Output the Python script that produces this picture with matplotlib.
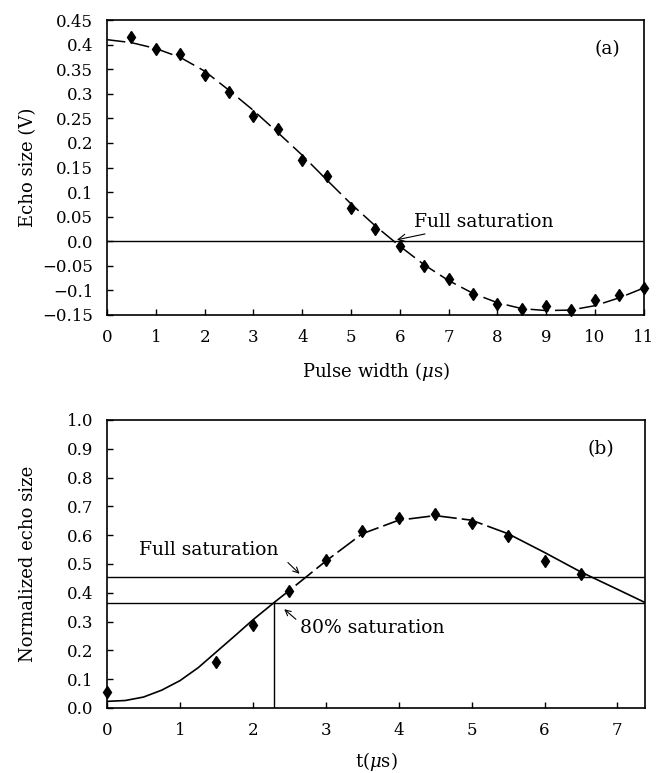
import matplotlib.pyplot as plt

# panel (a): echo size vs pulse width
pulse_w = [0.5, 1.0, 1.5, 2.0, 2.5, 3.0, 3.5, 4.0, 4.5, 5.0, 5.5,
           6.0, 6.5, 7.0, 7.5, 8.0, 8.5, 9.0, 9.5, 10.0, 10.5, 11.0]
echo_v = [0.416, 0.392, 0.380, 0.338, 0.304, 0.254, 0.228, 0.166, 0.132, 0.068, 0.025,
          -0.010, -0.051, -0.077, -0.107, -0.128, -0.137, -0.132, -0.139, -0.119, -0.110, -0.095]
fit_a_x = [0, 0.5, 1.0, 1.5, 2.0, 2.5, 3.0, 3.5, 4.0, 4.5, 5.0, 5.5,
           6.0, 6.5, 7.0, 7.5, 8.0, 8.5, 9.0, 9.5, 10.0, 10.5, 11.0]
fit_a_y = [0.410, 0.404, 0.392, 0.374, 0.346, 0.307, 0.266, 0.221, 0.175, 0.125, 0.076, 0.031,
           -0.010, -0.048, -0.080, -0.106, -0.125, -0.137, -0.141, -0.140, -0.131, -0.115, -0.095]
yticks_a = [0.45, 0.4, 0.35, 0.3, 0.25, 0.2, 0.15, 0.1, 0.05, 0.0, -0.05, -0.1, -0.15]
ylabels_a = ["0.45", "0.4", "0.35", "0.3", "0.25", "0.2", "0.15", "0.1", "0.05", "0.0",
             "\u22120.05", "\u22120.1", "\u22120.15"]

# panel (b): normalized echo size vs t
t_us = [0.0, 1.5, 2.0, 2.5, 3.0, 3.5, 4.0, 4.5, 5.0, 5.5, 6.0, 6.5]
norm_echo = [0.055, 0.158, 0.287, 0.407, 0.514, 0.616, 0.659, 0.674, 0.642, 0.598, 0.509, 0.466]
fit_b_x = [0.0, 0.25, 0.5, 0.75, 1.0, 1.25, 1.5, 1.75, 2.0, 2.3,
           2.5, 3.0, 3.5, 4.0, 4.5, 5.0, 5.5,
           6.0, 6.5, 7.0, 7.38]
fit_b_y = [0.023, 0.026, 0.038, 0.062, 0.095, 0.140, 0.195, 0.250, 0.306, 0.368,
           0.408, 0.510, 0.605, 0.652, 0.668, 0.652, 0.605,
           0.540, 0.472, 0.412, 0.366]
full_sat = 0.455
sat80 = 0.366
t80 = 2.29

plt.rcParams['font.family'] = ['DejaVu Serif']
plt.rcParams['mathtext.fontset'] = 'dejavuserif'

fig = plt.figure(figsize=(6.61, 7.73), dpi=100)
ax1 = fig.add_axes([0.162, 0.5925, 0.812, 0.3816])
ax2 = fig.add_axes([0.162, 0.0841, 0.814, 0.3726])

dash = (12, 4)
fs = 12       # tick labels
fl = 13       # axis labels
ft = 13.5     # annotations

# (a)
ax1.plot(fit_a_x, fit_a_y, color='black', lw=1.1, dashes=dash)
ax1.plot(pulse_w, echo_v, 'd', color='black', ms=6, clip_on=False)
ax1.axhline(0.0, color='black', lw=1.0)
ax1.set_xlim(0, 11)
ax1.set_ylim(-0.15, 0.45)
ax1.set_xticks(range(0, 12))
ax1.set_yticks(yticks_a)
ax1.set_yticklabels(ylabels_a)
ax1.set_xlabel(r"Pulse width ($\mu$s)", fontsize=fl, labelpad=10)
ax1.set_ylabel("Echo size (V)", fontsize=fl)
ax1.yaxis.set_label_coords(-0.13, 0.5)
ax1.text(10.25, 0.39, "(a)", fontsize=ft, ha='center', va='center')
ax1.annotate("Full saturation", xy=(5.94, 0.003), xytext=(6.3, 0.04),
             fontsize=ft, va='center', ha='left',
             arrowprops=dict(arrowstyle='->', lw=0.8, color='black', shrinkA=2, shrinkB=0))

# (b)
xs = fit_b_x
ys = fit_b_y
i1 = xs.index(2.3)
i2 = xs.index(5.5)
ax2.plot(xs[:i1 + 1], ys[:i1 + 1], color='black', lw=1.2)
ax2.plot(xs[i1:i2 + 1], ys[i1:i2 + 1], color='black', lw=1.2, dashes=(13, 3))
ax2.plot(xs[i2:], ys[i2:], color='black', lw=1.2)
ax2.plot(t_us, norm_echo, 'd', color='black', ms=6, clip_on=False)
ax2.axhline(full_sat, color='black', lw=1.0)
ax2.axhline(sat80, color='black', lw=1.0)
ax2.plot([t80, t80], [0, sat80], color='black', lw=1.0)
ax2.set_xlim(0, 7.38)
ax2.set_ylim(0, 1.0)
ax2.set_xticks(range(0, 8))
ax2.set_yticks([i / 10 for i in range(11)])
ax2.set_yticklabels([f"{i / 10:.1f}" for i in range(11)])
ax2.set_xlabel(r"t($\mu$s)", fontsize=fl, labelpad=8)
ax2.set_ylabel("Normalized echo size", fontsize=fl)
ax2.yaxis.set_label_coords(-0.13, 0.5)
ax2.text(6.77, 0.9, "(b)", fontsize=ft, ha='center', va='center')
ax2.text(0.44, 0.547, "Full saturation", fontsize=ft, va='center', ha='left')
ax2.annotate("", xy=(2.64, 0.466), xytext=(2.48, 0.505),
             arrowprops=dict(arrowstyle='->', lw=0.8, color='black', shrinkA=0, shrinkB=0))
ax2.text(2.65, 0.277, "80% saturation", fontsize=ft, va='center', ha='left')
ax2.annotate("", xy=(2.43, 0.343), xytext=(2.59, 0.308),
             arrowprops=dict(arrowstyle='->', lw=0.8, color='black', shrinkA=0, shrinkB=0))

for ax in (ax1, ax2):
    ax.tick_params(direction='in', length=4, width=1.0, labelsize=fs, pad=10,
                   top=False, right=False)
    for sp in ax.spines.values():
        sp.set_linewidth(1.2)

fig.savefig("out.png", dpi=100)
